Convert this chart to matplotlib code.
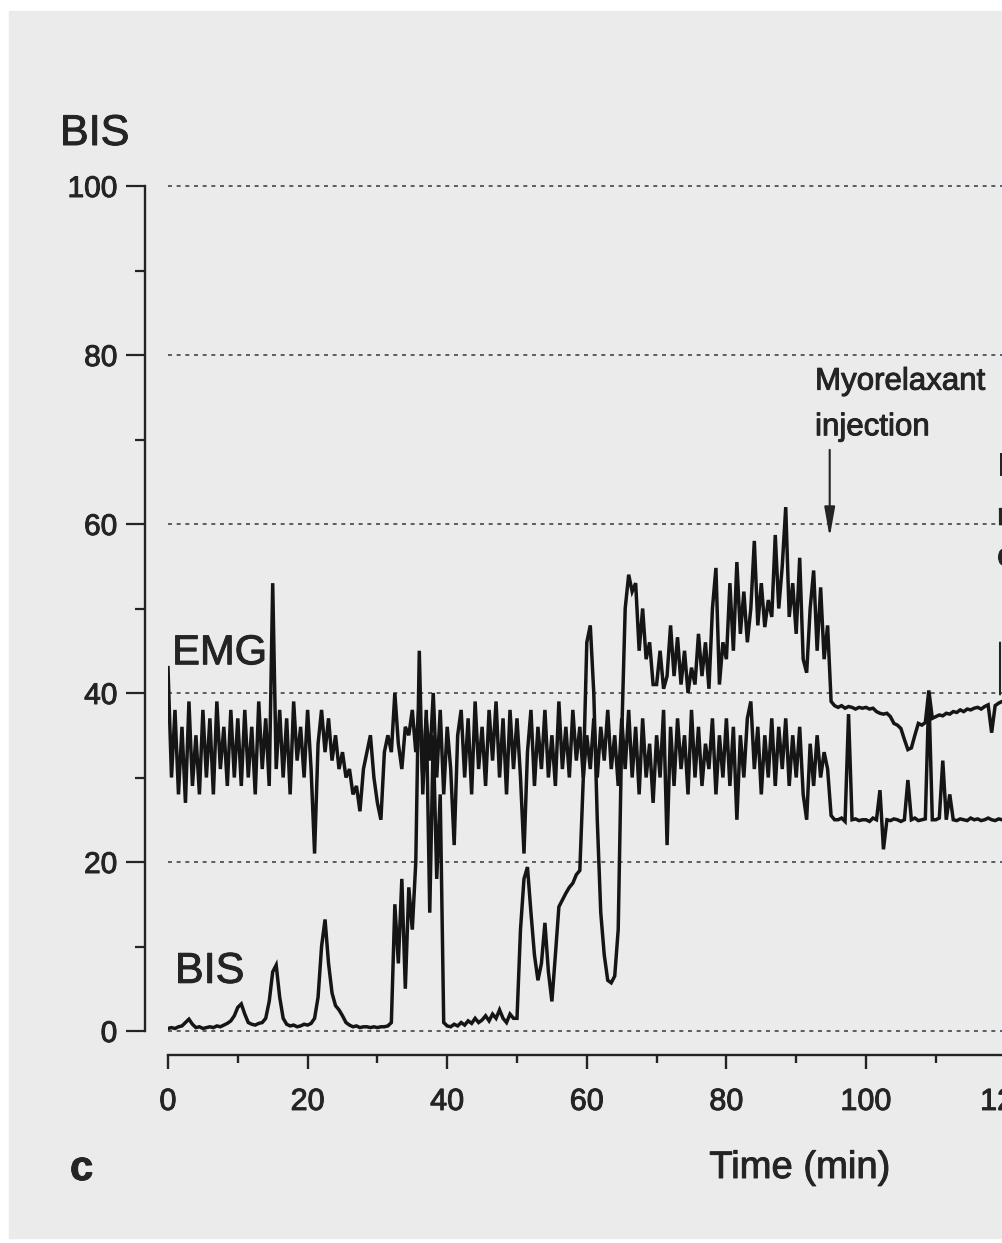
import numpy as np
import matplotlib

matplotlib.use("Agg")
import matplotlib.pyplot as plt
import matplotlib.patheffects as pe
from matplotlib.patches import Rectangle

# traces sampled every 0.5 min, 0 .. 119.5 min
emg = [
    43, 30, 38, 28, 36, 27, 39, 29, 35, 28, 38, 30, 37, 28, 39, 31, 36, 29, 38, 30,
    37, 29, 38, 30, 36, 28, 39, 31, 37, 29, 53, 31, 38, 30, 37, 28, 39, 32, 36, 30,
    38, 31, 21, 34, 38, 33, 37, 32, 35, 31, 33, 30, 31, 28, 29, 26, 31, 33, 35, 30,
    27, 25, 33, 35, 33, 40, 34, 31, 36, 35, 38, 33, 39, 30, 37, 32, 40, 30, 38, 28,
    36, 31, 22, 35, 38, 30, 37, 28, 39, 31, 36, 29, 38, 32, 39, 30, 37, 28, 38, 31,
    37, 30, 21, 33, 38, 29, 36, 31, 38, 30, 35, 29, 39, 31, 36, 30, 38, 32, 36, 30,
    35, 31, 37, 30, 36, 32, 38, 31, 35, 29, 37, 31, 38, 30, 36, 28, 37, 30, 34, 27,
    35, 30, 38, 22, 36, 29, 37, 31, 35, 28, 38, 30, 36, 29, 34, 31, 37, 28, 35, 30,
    37, 29, 36, 25, 35, 30, 37, 39, 31, 36, 28, 35, 30, 37, 29, 36, 31, 37, 29, 35,
    30, 36, 28, 25, 34, 29, 35, 30, 33, 31, 25.5, 25, 25, 25.2, 24.8, 37.5, 25, 25.1, 24.9, 25,
    25, 24.8, 25.2, 25, 28.5, 21.5, 25, 24.9, 25.1, 25, 24.8, 25, 29.7, 25, 25.2, 24.9, 25, 25.1, 40, 25,
    25, 25.2, 32, 25, 28, 25, 24.9, 25.1, 25, 24.9, 25.2, 25, 25.1, 24.9, 25, 25.2, 25, 24.9, 25.1, 25,
]

bis = [
    0.3, 0.4, 0.3, 0.5, 0.6, 1.0, 1.4, 0.8, 0.4, 0.5, 0.3, 0.4, 0.5, 0.4, 0.6, 0.5, 0.7, 0.9, 1.2, 1.8,
    2.8, 3.2, 2.0, 1.0, 0.8, 0.7, 0.9, 1.0, 1.5, 3.5, 7.0, 7.8, 4.0, 1.5, 0.8, 0.6, 0.7, 0.5, 0.6, 0.8,
    0.7, 0.9, 1.5, 4.0, 10.0, 13.2, 8.0, 4.5, 3.0, 2.5, 1.8, 1.0, 0.7, 0.5, 0.6, 0.4, 0.5, 0.5, 0.4, 0.5,
    0.4, 0.5, 0.5, 0.6, 1.0, 15, 8, 18, 5, 17, 12, 20, 45, 28, 38, 14, 35, 18, 28, 1.0,
    0.6, 0.5, 0.8, 0.6, 1.0, 0.7, 1.2, 0.9, 1.5, 1.0, 1.3, 1.8, 1.2, 2.0, 1.5, 2.5, 1.5, 1.0, 2.0, 1.5,
    1.5, 12, 18, 19.4, 14, 9, 6, 8, 12.8, 7, 3.5, 9, 14.7, 15.5, 16.3, 17, 17.5, 18.5, 19, 30,
    46, 48, 40, 25, 14, 9, 6, 5.7, 6.5, 12, 35, 50, 54, 52, 53, 45, 50, 44, 46, 41,
    41, 45, 40.5, 42, 48, 42, 46.6, 41, 45, 40, 43, 41, 47, 42, 46, 40.5, 50, 54.8, 41, 46,
    44, 53, 45, 55.5, 47, 52, 46, 50, 58, 48, 53, 47.8, 51, 49, 58.7, 50, 55, 62, 49, 53,
    47, 56, 44, 42.4, 50, 54.5, 45, 52.5, 44, 48, 39, 38.5, 38.3, 38.5, 38.2, 38.4, 38.3, 38.1, 38.3, 38.2,
    38.3, 38.1, 38.2, 37.8, 37.6, 37.5, 37.6, 37.2, 36.4, 36.2, 35.8, 34.5, 33.3, 33.5, 35.0, 36.4, 36.2, 36.5, 40.3, 37.0,
    37.2, 37.4, 37.3, 37.6, 37.5, 37.8, 37.7, 38.0, 37.8, 38.1, 38.0, 38.2, 38.3, 38.1, 38.4, 38.6, 35.3, 38.5, 38.8, 39.0,
]

t = np.arange(len(emg)) * 0.5

grid_levels = [0, 20, 40, 60, 80, 100]
x_major = [0, 20, 40, 60, 80, 100, 120]
x_minor = [10, 30, 50, 70, 90, 110]
y_major = [0, 20, 40, 60, 80, 100]
y_minor = [10, 30, 50, 70, 90]

plt.rcParams["font.family"] = ["Liberation Sans", "DejaVu Sans"]
ink = "#242424"
# printed type is a little heavier than the plain font
heavy = [pe.withStroke(linewidth=0.7, foreground=ink)]

W, H = 1003, 1243
fig = plt.figure(figsize=(W / 100, H / 100), dpi=100)
fig.patch.set_facecolor("white")
# paper tone of the printed page
fig.add_artist(Rectangle((9 / W, 5 / H), 1, (1235 - 8) / H,
                         transform=fig.transFigure, color="#ebebeb", zorder=-10))

ax = fig.add_axes([168 / W, 1 - 1039.45 / H, 837.6 / W, 861.9 / H])
ax.set_facecolor("none")
ax.set_xlim(0, 120)
ax.set_ylim(-1, 101)

for lvl in grid_levels:
    ax.axhline(lvl, color="#50505c", lw=1.3, ls=(0, (2.2, 2.6)), zorder=1)

ax.plot(t, emg, color="#151515", lw=2.5, zorder=3, solid_joinstyle="miter")
ax.plot(t, bis, color="#151515", lw=2.5, zorder=3, solid_joinstyle="miter")

for side in ("top", "right"):
    ax.spines[side].set_visible(False)
ax.spines["left"].set_position(("outward", 16.6))
ax.spines["left"].set_bounds(0, 100)
ax.spines["bottom"].set_position(("outward", 11.2))
ax.spines["bottom"].set_bounds(0, 125)
for side in ("left", "bottom"):
    ax.spines[side].set_linewidth(1.7)
    ax.spines[side].set_color(ink)

ax.set_xticks(x_major)
ax.set_xticks(x_minor, minor=True)
ax.set_yticks(y_major)
ax.set_yticks(y_minor, minor=True)
ax.tick_params(axis="y", which="major", length=14, width=1.6, pad=6,
               labelsize=21.5, colors=ink)
ax.tick_params(axis="y", which="minor", length=7, width=1.6, colors=ink)
ax.tick_params(axis="x", which="major", length=10, width=1.7, pad=13,
               labelsize=22, colors=ink)
ax.tick_params(axis="x", which="minor", length=6, width=1.7, colors=ink)
for lab in ax.get_xticklabels() + ax.get_yticklabels():
    lab.set_path_effects(heavy)

texts = []
texts.append(ax.text(0.6, 43.4, "EMG", fontsize=30, color=ink, va="baseline"))
texts.append(ax.text(1.0, 5.7, "BIS", fontsize=31, color=ink, va="baseline"))

texts.append(ax.text(92.7, 75.9, "Myorelaxant", fontsize=22.5, color=ink, va="baseline"))
texts.append(ax.text(92.7, 70.5, "injection", fontsize=22.5, color=ink, va="baseline"))
ax.annotate("", xy=(94.8, 58.1), xytext=(94.8, 69.1),
            arrowprops=dict(arrowstyle="-|>,head_width=0.16,head_length=0.9",
                            lw=1.5, color=ink, mutation_scale=20))

# second annotation runs off the right edge of the page
texts.append(ax.text(118.8, 65.8, "E", fontsize=22.5, color=ink, va="baseline", clip_on=False))
texts.append(ax.text(118.8, 59.9, "r", fontsize=22.5, color=ink, va="baseline", clip_on=False))
texts.append(ax.text(118.8, 55.1, "c", fontsize=22.5, color=ink, va="baseline", clip_on=False))
ax.annotate("", xy=(119.2, 39.5), xytext=(119.2, 46.3),
            arrowprops=dict(arrowstyle="-", lw=1.5, color=ink), annotation_clip=False)

texts.append(fig.text(60 / W, 1 - 145 / H, "BIS", fontsize=31, color=ink, va="baseline"))
texts.append(fig.text(800 / W, 1 - 1178 / H, "Time (min)", fontsize=27.5, color=ink,
                      ha="center", va="baseline"))
texts.append(fig.text(70 / W, 1 - 1180 / H, "c", fontsize=30, color=ink,
                      fontweight="bold", va="baseline"))
for txt in texts:
    txt.set_path_effects(heavy)

fig.savefig("out.png", dpi=100)
plt.close(fig)
